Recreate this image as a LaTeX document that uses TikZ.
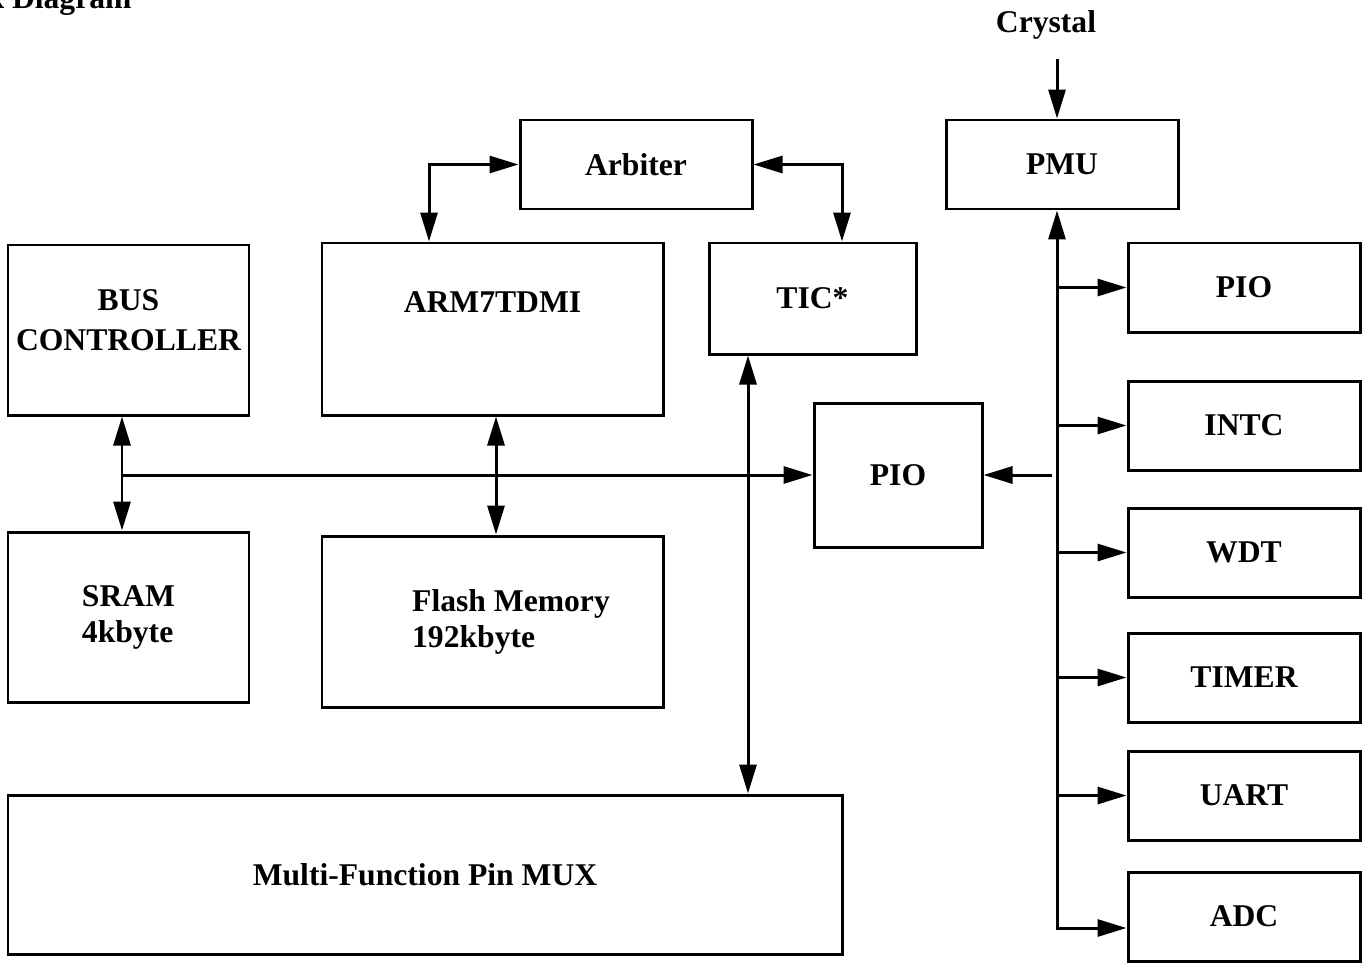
\documentclass[tikz,border=0pt]{standalone}
\usepackage{fontspec}
\setmainfont{Liberation Serif}
\usetikzlibrary{arrows.meta}

\tikzset{
  blk/.style={draw, line width=1.7pt, inner sep=0pt, font=\bfseries\fontsize{18}{20.5}\selectfont},
  lbl/.style={font=\bfseries\fontsize{18}{20.5}\selectfont},
  smallblk/.style={blk, minimum width=4.64cm, minimum height=1.78cm},
}

\begin{document}
\begin{tikzpicture}[line width=1.7pt, >={Triangle[length=0.58cm,width=0.34cm]}]
      \useasboundingbox (0,0) rectangle (27.34,-19.28);
      \coordinate (bus) at (21.14,0);

      % Top row
      \node[lbl, inner sep=0pt, anchor=base east] (title) at (2.66,-0.17) {Block Diagram};
      \node[lbl, anchor=base] (crystal) at (20.92,-0.64) {Crystal};
      \node[smallblk] (arbiter) at (12.72,-3.29) {Arbiter};
      \node[smallblk] (pmu) at (21.24,-3.29) {PMU};

      % Core
      \node[blk, minimum width=4.82cm, minimum height=3.4cm,
        label={[lbl, align=center, yshift=0.2cm]center:BUS\\[2pt]CONTROLLER}] (busctrl) at (2.57,-6.6) {};
      \node[blk, minimum width=6.82cm, minimum height=3.44cm,
        label={[lbl, yshift=0.54cm]center:ARM7TDMI}] (arm) at (9.85,-6.58) {};
      \node[blk, minimum width=4.14cm, minimum height=2.22cm] (tic) at (16.25,-5.97) {TIC*};
      \node[blk, minimum width=3.36cm, minimum height=2.88cm] (pio) at (17.96,-9.5) {PIO};

      % Memories
      \node[blk, minimum width=4.82cm, minimum height=3.4cm, align=left] (sram) at (2.57,-12.34) {SRAM\\4kbyte};
      \node[blk, minimum width=6.82cm, minimum height=3.42cm,
        label={[lbl, align=left, xshift=0.37cm]center:Flash Memory\\192kbyte}] (flash) at (9.85,-12.43) {};
      \node[blk, minimum width=16.68cm, minimum height=3.18cm] (mux) at (8.5,-17.49) {Multi-Function Pin MUX};

      % Peripherals
      \node[smallblk] (piob) at (24.88,-5.75) {PIO};
      \node[smallblk] (intc) at (24.88,-8.51) {INTC};
      \node[smallblk] (wdt) at (24.88,-11.05) {WDT};
      \node[smallblk] (timer) at (24.88,-13.55) {TIMER};
      \node[smallblk] (uart) at (24.88,-15.91) {UART};
      \node[smallblk] (adc) at (24.88,-18.33) {ADC};

      % Arbiter links
      \draw[<->] ([xshift=-1.27cm]arm.north) |- (arbiter.west);
      \draw[<->] (arbiter.east) -| ([xshift=0.59cm]tic.north);
      \draw[<->] ([xshift=-1.29cm]tic.south) coordinate (t) -- (t |- mux.north);

      % Local bus
      \draw[<->] ([xshift=-0.13cm]busctrl.south) coordinate (bc) -- (bc |- sram.north);
      \draw[->] (bc |- pio.west) -- (pio.west);
      \draw[<->] ([xshift=0.07cm]arm.south) coordinate (af) -- (af |- flash.north);

      % Peripheral bus
      \draw[->] ([yshift=-0.26cm]crystal.south -| bus) -- (bus |- pmu.north);
      \draw[<->] (bus |- pmu.south) |- ([yshift=-0.23cm]adc.west);
      \foreach \p in {piob,intc,wdt,timer,uart}
        \draw[->] (bus |- \p.west) -- (\p.west);
      \coordinate (piotap) at (21.04,-9.5);
      \draw[->] (piotap) -- (pio.east);
\end{tikzpicture}
\end{document}
